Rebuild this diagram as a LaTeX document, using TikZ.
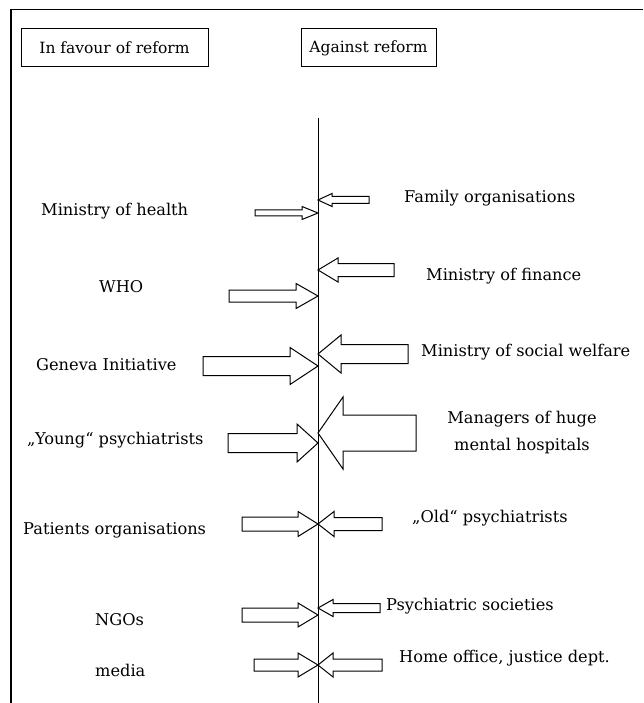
\documentclass[tikz,border=0pt]{standalone}
\usepackage{fontspec}
\setmainfont{DejaVu Serif}
\newcommand\arrR[6]{% tipx tipy tailx headx shafthalf headhalf
  \draw[blk] (#3,#2-#5) -- (#4,#2-#5) -- (#4,#2-#6) -- (#1,#2) -- (#4,#2+#6) -- (#4,#2+#5) -- (#3,#2+#5) -- cycle;}
\begin{document}
\begin{tikzpicture}[x=1pt,y=-1pt,
  blk/.style={draw=black,fill=white,line width=1pt,line join=miter},
  lbl/.style={font=\fontsize{16.2}{27}\selectfont,inner sep=0pt},
  hdr/.style={draw=black,line width=1pt,minimum width=187pt,minimum height=38pt,inner sep=0pt,font=\fontsize{15.5}{19}\selectfont}]
\useasboundingbox (0,0) rectangle (643,703);
\fill[white] (0,0) rectangle (643,703);
% frame (top and left edges)
\draw[line width=1.4pt] (643,9.5) -- (11,9.5) -- (11,703);
% headers
\node[hdr] (fav) at (114.5,48) {In favour of reform};
\node[hdr,minimum width=135pt] (ag) at (368.5,48) {Against reform};
% axis
\coordinate (top) at (318,118);
\coordinate (bot) at (318,703);
\draw[line width=1pt] (top) -- (bot);
% left arrows (pointing right)
\arrR{318}{213}{255}{302}{3}{6.5}
\arrR{318}{296}{229}{296}{6}{12.5}
\arrR{318}{366}{203}{290}{9.5}{18.5}
\arrR{318}{443}{228}{297}{9.5}{19}
\arrR{318}{524}{242}{298}{7}{12.5}
\arrR{318}{615}{242}{298}{7}{12}
\arrR{318}{665}{254}{298}{6}{12}
% right arrows (pointing left)
\arrR{318}{200}{369}{332}{3.5}{6.5}
\arrR{318}{270}{394}{338}{6.5}{12}
\arrR{318}{354}{408}{341}{9.5}{19}
\arrR{318}{433}{416}{343}{18}{36}
\arrR{318}{524}{382}{334}{6.5}{12.5}
\arrR{318}{608}{380}{333}{4.5}{8.5}
\arrR{318}{665}{382}{333}{6}{12}
% left labels
\node[lbl,anchor=west] (l1) at (41,211) {Ministry of health};
\node[lbl,anchor=west] (l2) at (99,287) {WHO};
\node[lbl,anchor=west] (l3) at (36,365) {Geneva Initiative};
\node[lbl,anchor=west] (l4) at (27,440) {„Young“ psychiatrists};
\node[lbl,anchor=west] (l5) at (23,530) {Patients organisations};
\node[lbl,anchor=west] (l6) at (95,620) {NGOs};
\node[lbl,anchor=west] (l7) at (95,670) {media};
% right labels
\node[lbl,anchor=west] (r1) at (404,198) {Family organisations};
\node[lbl,anchor=west] (r2) at (426,276) {Ministry of finance};
\node[lbl,anchor=west] (r3) at (421,352) {Ministry of social welfare};
\node[lbl,align=center] (r4) at (522,433) {Managers of huge\\mental hospitals};
\node[lbl,anchor=west] (r5) at (412,518) {„Old“ psychiatrists};
\node[lbl,anchor=west] (r6) at (386,606) {Psychiatric societies};
\node[lbl,anchor=west] (r7) at (399,658) {Home office, justice dept.};
\end{tikzpicture}
\end{document}
